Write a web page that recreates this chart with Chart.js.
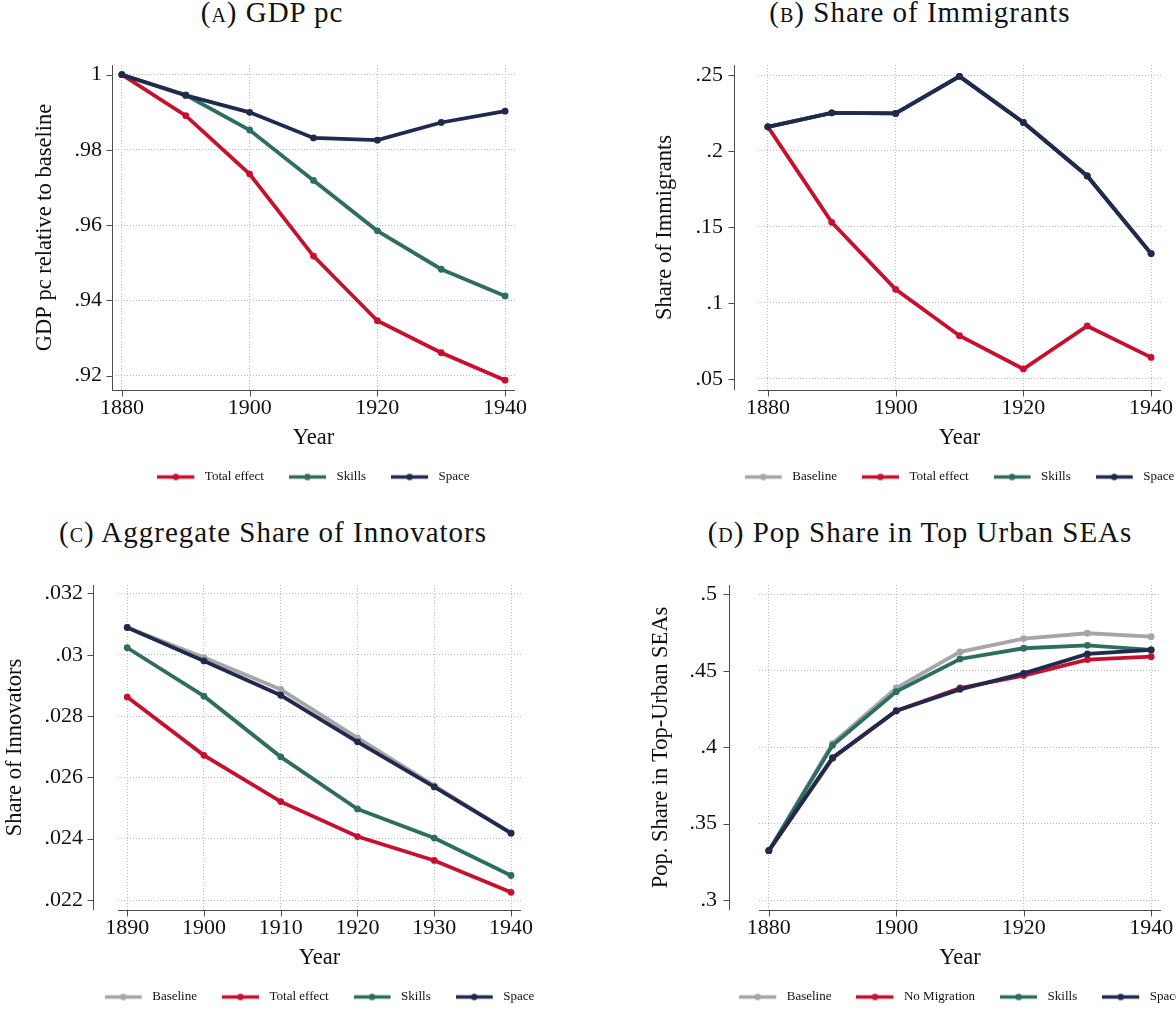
<!DOCTYPE html>
<html>
<head>
<meta charset="utf-8">
<script src="https://cdn.jsdelivr.net/npm/chart.js@4.4.1/dist/chart.umd.min.js"></script>
<style>
  html, body { margin: 0; padding: 0; background: #fff; width: 1176px; height: 1009px; overflow: hidden; }
  .panel-title { position: absolute; font-family: 'Liberation Serif', 'Times New Roman', serif; font-size: 29px; line-height: 29px; letter-spacing: 1px; white-space: nowrap; transform: translateX(-50%); color: #111; }
  .sc { font-variant: small-caps; }
  canvas { position: absolute; }
</style>
</head>
<body>
<div class="panel-title" style="left:272px; top:-2px">(<span class="sc">a</span>) GDP pc</div>
<div class="panel-title" style="left:920px; top:-2px">(<span class="sc">b</span>) Share of Immigrants</div>
<div class="panel-title" style="left:273px; top:518px">(<span class="sc">c</span>) Aggregate Share of Innovators</div>
<div class="panel-title" style="left:920px; top:518px">(<span class="sc">d</span>) Pop Share in Top Urban SEAs</div>
<canvas id="chartA"></canvas>
<canvas id="chartB"></canvas>
<canvas id="chartC"></canvas>
<canvas id="chartD"></canvas>
<script>
// years on the x axis
const years = [1880, 1890, 1900, 1910, 1920, 1930, 1940];
const yearsC = [1890, 1900, 1910, 1920, 1930, 1940];
const xTicks = [1880, 1900, 1920, 1940];
const xTicksC = [1890, 1900, 1910, 1920, 1930, 1940];

// (A) GDP pc relative to baseline
const gdpTotal = [1, 0.9891, 0.9736, 0.9518, 0.9346, 0.9261, 0.9188];
const gdpSkills = [1, 0.9946, 0.9853, 0.9719, 0.9585, 0.9483, 0.9412];
const gdpSpace = [1, 0.9945, 0.9900, 0.9832, 0.9826, 0.9873, 0.9903];
const gdpTicks = [0.92, 0.94, 0.96, 0.98, 1];
const gdpTickLabels = ['.92', '.94', '.96', '.98', '1'];

// (B) share of immigrants (baseline and skills sit under space)
const immBaseline = [0.2159, 0.2251, 0.2247, 0.2491, 0.2188, 0.1836, 0.1325];
const immTotal = [0.2159, 0.1531, 0.1090, 0.0785, 0.0566, 0.0849, 0.0642];
const immSkills = [0.2159, 0.2251, 0.2247, 0.2491, 0.2188, 0.1836, 0.1325];
const immSpace = [0.2159, 0.2251, 0.2247, 0.2491, 0.2188, 0.1836, 0.1325];
const immTicks = [0.05, 0.1, 0.15, 0.2, 0.25];
const immTickLabels = ['.05', '.1', '.15', '.2', '.25'];

// (C) aggregate share of innovators
const innBaseline = [0.03089, 0.02991, 0.02887, 0.02729, 0.02573, 0.02418];
const innTotal = [0.02862, 0.02672, 0.02521, 0.02407, 0.02329, 0.02225];
const innSkills = [0.03023, 0.02865, 0.02667, 0.02497, 0.02402, 0.02280];
const innSpace = [0.03089, 0.02980, 0.02868, 0.02716, 0.02569, 0.02418];
const innTicks = [0.022, 0.024, 0.026, 0.028, 0.030, 0.032];
const innTickLabels = ['.022', '.024', '.026', '.028', '.03', '.032'];

// (D) pop share in top urban SEAs
const popBaseline = [0.3323, 0.4025, 0.4387, 0.4623, 0.4710, 0.4745, 0.4723];
const popNoMig = [0.3323, 0.3927, 0.4237, 0.4387, 0.4468, 0.4573, 0.4592];
const popSkills = [0.3323, 0.4012, 0.4363, 0.4577, 0.4647, 0.4666, 0.4636];
const popSpace = [0.3323, 0.3931, 0.4239, 0.4378, 0.4483, 0.4610, 0.4636];
const popTicks = [0.3, 0.35, 0.4, 0.45, 0.5];
const popTickLabels = ['.3', '.35', '.4', '.45', '.5'];

const GRAY = '#a6a6a6', RED = '#c8102e', GREEN = '#2e6e61', NAVY = '#1f2a4e';
const TXT = '#111';

Chart.defaults.font.family = "'Liberation Serif', 'Times New Roman', serif";
Chart.defaults.color = TXT;

// little line-with-dot picture for the legend keys
function swatch(color) {
  const c = document.createElement('canvas');
  c.width = 41; c.height = 9;
  const g = c.getContext('2d');
  g.strokeStyle = color; g.lineWidth = 3.5;
  g.beginPath(); g.moveTo(0, 4.5); g.lineTo(37, 4.5); g.stroke();
  g.fillStyle = color;
  g.beginPath(); g.arc(18.5, 4.5, 3.2, 0, Math.PI * 2); g.fill();
  return c;
}

// stata-like axis lines: y axis pulled off the plot region by "gap", ticks outside
const axisLines = {
  id: 'axisLines',
  beforeDatasetsDraw(chart, args, opts) {
    const { ctx, chartArea: a, scales: { x, y } } = chart;
    const ax = Math.round(a.left - opts.gap) + 0.5;
    const by = Math.round(a.bottom) + 0.5;
    ctx.save();
    ctx.strokeStyle = '#4d4d4d';
    ctx.lineWidth = 1;
    ctx.beginPath();
    ctx.moveTo(ax, a.top); ctx.lineTo(ax, a.bottom);
    y.ticks.forEach(t => {
      const py = Math.round(y.getPixelForValue(t.value)) + 0.5;
      ctx.moveTo(ax - 6, py); ctx.lineTo(ax, py);
    });
    ctx.moveTo(a.left, by); ctx.lineTo(a.right, by);
    x.ticks.forEach(t => {
      const px = Math.round(x.getPixelForValue(t.value)) + 0.5;
      ctx.moveTo(px, by); ctx.lineTo(px, by + 6);
    });
    ctx.stroke();
    ctx.restore();
  }
};

function makeChart(id, geo, labelsX, series, xTickVals, yTickVals, yTickLabels, yTitle) {
  const X0 = geo.yTitleX - 16;
  const Y0 = geo.top - 25;
  const yW = geo.left - X0;
  const W = geo.right - X0 + yW;
  const xAxisH = geo.legendY - 31.5 - geo.bottom;
  const H = Math.round(geo.bottom - Y0 + xAxisH + 48 + 8);
  const cv = document.getElementById(id);
  cv.width = W; cv.height = H;
  cv.style.left = X0 + 'px'; cv.style.top = Y0 + 'px';
  cv.style.width = W + 'px'; cv.style.height = H + 'px';

  const n = series.length;
  const datasets = series.map((s, i) => ({
    label: s.label,
    data: labelsX.map((yr, k) => ({ x: yr, y: s.data[k] })),
    borderColor: s.color,
    backgroundColor: s.color,
    pointBackgroundColor: s.color,
    borderWidth: 3.8,
    pointRadius: 3.4,
    pointBorderWidth: 0,
    tension: 0,
    order: n - i
  }));

  const tickFont = { size: 22 };
  const titleFont = { size: 22.5 };

  return new Chart(cv, {
    type: 'line',
    data: { datasets },
    options: {
      responsive: false,
      animation: false,
      devicePixelRatio: 1,
      events: [],
      layout: { padding: { top: 25, left: 0, right: 0, bottom: H - (geo.bottom - Y0) - xAxisH - 48 } },
      scales: {
        x: {
          type: 'linear', bounds: 'data', min: geo.xMin, max: geo.xMax,
          afterBuildTicks: s => { s.ticks = xTickVals.map(v => ({ value: v })); },
          ticks: { padding: 5, font: tickFont, color: TXT, autoSkip: false, maxRotation: 0, callback: v => String(v) },
          grid: { color: '#b9b9b9', lineWidth: 1, drawTicks: false },
          border: { display: false, dash: [1, 2] },
          title: { display: true, text: 'Year', font: titleFont, color: TXT, padding: { top: 0, bottom: -6 } },
          afterFit: s => { s.height = xAxisH; s.paddingLeft = 0; s.paddingRight = 0; }
        },
        y: {
          type: 'linear', bounds: 'data', min: geo.yMin, max: geo.yMax,
          afterBuildTicks: s => { s.ticks = yTickVals.map(v => ({ value: v })); },
          ticks: { padding: geo.labelPad, font: tickFont, color: TXT, callback: (v, i) => yTickLabels[i] },
          grid: { color: '#b9b9b9', lineWidth: 1, drawTicks: false },
          border: { display: false, dash: [1, 2] },
          title: { display: true, text: yTitle, font: titleFont, color: TXT, padding: { top: 16 - 13.5, bottom: 0 } },
          afterFit: s => { s.width = yW; s.paddingTop = 0; s.paddingBottom = 0; }
        },
        // empty box on the right so the legend centres under the plot region
        yRight: {
          type: 'linear', position: 'right', display: true,
          ticks: { display: false }, grid: { display: false, drawTicks: false }, border: { display: false },
          afterFit: s => { s.width = yW; s.paddingTop = 0; s.paddingBottom = 0; }
        }
      },
      plugins: {
        axisLines: { gap: geo.gap },
        tooltip: { enabled: false },
        legend: {
          position: 'bottom',
          labels: {
            font: { size: 13 }, color: TXT, padding: 25,
            usePointStyle: true, pointStyleWidth: 41,
            generateLabels: chart => Chart.defaults.plugins.legend.labels.generateLabels(chart)
              .map(item => ({ ...item, pointStyle: swatch(chart.data.datasets[item.datasetIndex].borderColor) })),
            sort: (a, b) => a.datasetIndex - b.datasetIndex
          }
        }
      }
    },
    plugins: [axisLines]
  });
}

makeChart('chartA',
  { left: 112, right: 515, top: 65, bottom: 390, gap: 0, labelPad: 10, yTitleX: 45, legendY: 477,
    xMin: 1878.45, xMax: 1941.55, yMin: 0.9162, yMax: 1.00258 },
  years,
  [{ label: 'Total effect', data: gdpTotal, color: RED },
   { label: 'Skills', data: gdpSkills, color: GREEN },
   { label: 'Space', data: gdpSpace, color: NAVY }],
  xTicks, gdpTicks, gdpTickLabels, 'GDP pc relative to baseline');

makeChart('chartB',
  { left: 758, right: 1161, top: 65, bottom: 390, gap: 24, labelPad: 35, yTitleX: 665, legendY: 477,
    xMin: 1878.45, xMax: 1941.55, yMin: 0.04276, yMax: 0.25658 },
  years,
  [{ label: 'Baseline', data: immBaseline, color: GRAY },
   { label: 'Total effect', data: immTotal, color: RED },
   { label: 'Skills', data: immSkills, color: GREEN },
   { label: 'Space', data: immSpace, color: NAVY }],
  xTicks, immTicks, immTickLabels, 'Share of Immigrants');

makeChart('chartC',
  { left: 118, right: 521, top: 585, bottom: 910, gap: 25, labelPad: 35, yTitleX: 15, legendY: 997,
    xMin: 1888.8, xMax: 1941.3, yMin: 0.021674, yMax: 0.032277 },
  yearsC,
  [{ label: 'Baseline', data: innBaseline, color: GRAY },
   { label: 'Total effect', data: innTotal, color: RED },
   { label: 'Skills', data: innSkills, color: GREEN },
   { label: 'Space', data: innSpace, color: NAVY }],
  xTicksC, innTicks, innTickLabels, 'Share of Innovators');

makeChart('chartD',
  { left: 759, right: 1161, top: 585, bottom: 910, gap: 30, labelPad: 42, yTitleX: 661, legendY: 997,
    xMin: 1878.45, xMax: 1941.55, yMin: 0.29346, yMax: 0.50608 },
  years,
  [{ label: 'Baseline', data: popBaseline, color: GRAY },
   { label: 'No Migration', data: popNoMig, color: RED },
   { label: 'Skills', data: popSkills, color: GREEN },
   { label: 'Space', data: popSpace, color: NAVY }],
  xTicks, popTicks, popTickLabels, 'Pop. Share in Top-Urban SEAs');
</script>
</body>
</html>
